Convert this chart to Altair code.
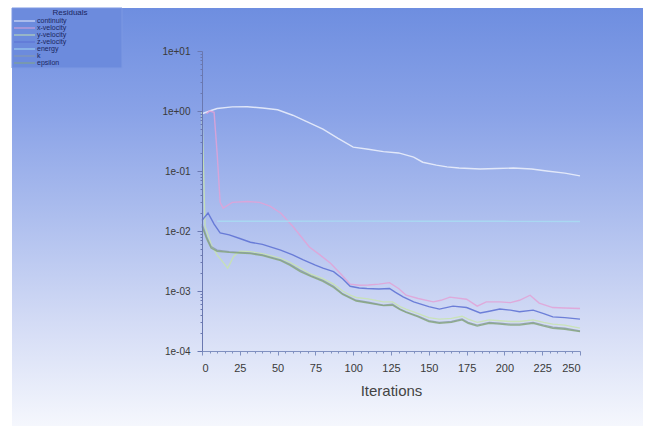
import altair as alt
import pandas as pd

# ---------------- data ----------------
series_names = ["continuity", "x-velocity", "y-velocity", "z-velocity", "energy", "k", "epsilon"]
series_colors = ["#eef2fc", "#e2a2d6", "#c8e4ae", "#5a6ed2", "#a8dcf2", "#8b9ca6", "#86a67e"]

continuity_iter = [0, 5, 10, 20, 30, 40, 50, 60, 70, 80, 90, 100, 110, 120, 130, 140, 146, 155, 162,
                   170, 184, 195, 206, 218, 228, 240, 250]
continuity_res = [0.9, 1.0, 1.1, 1.17, 1.18, 1.12, 1.05, 0.85, 0.65, 0.5, 0.35, 0.25, 0.23, 0.21, 0.2,
                  0.17, 0.14, 0.125, 0.117, 0.112, 0.108, 0.11, 0.112, 0.108, 0.10, 0.092, 0.083]

xvel_iter = [3, 5, 8, 10, 12, 14, 20, 30, 38, 45, 52, 60, 71, 78, 85, 92, 98, 104, 110, 117, 124, 130,
             135, 143, 153, 158, 164, 175, 182, 188, 197, 204, 210, 217, 223, 232, 240, 250]
xvel_res = [0.9, 1.0, 0.95, 0.2, 0.03, 0.024, 0.03, 0.031, 0.03, 0.026, 0.02, 0.012, 0.0054, 0.004,
            0.0029, 0.0019, 0.0013, 0.00125, 0.00126, 0.0013, 0.00138, 0.0011, 0.00085, 0.00075,
            0.00066, 0.0007, 0.00079, 0.00073, 0.00056, 0.00066, 0.00066, 0.00064, 0.0007, 0.00085,
            0.00063, 0.00053, 0.00052, 0.00051]

yvel_iter = [0, 2, 6, 10, 14, 17, 21, 25, 32, 40, 52, 58, 65, 72, 80, 87, 93, 98, 102, 110, 120, 126,
             131, 135, 143, 150, 157, 165, 172, 176, 182, 190, 197, 204, 210, 219, 226, 232, 240, 250]
yvel_res = [1.0, 0.012, 0.006, 0.004, 0.003, 0.0024, 0.0038, 0.0046, 0.0045, 0.0042, 0.0035, 0.003,
            0.0024, 0.0019, 0.0016, 0.0013, 0.001, 0.00085, 0.00078, 0.00074, 0.00066, 0.00066,
            0.00055, 0.0005, 0.00042, 0.00036, 0.00034, 0.00035, 0.00038, 0.00034, 0.0003, 0.00033,
            0.00032, 0.00031, 0.00031, 0.00033, 0.0003, 0.00028, 0.00027, 0.00024]

zvel_iter = [0, 4, 8, 12, 18, 25, 32, 40, 52, 60, 67, 75, 80, 87, 93, 98, 104, 109, 117, 124, 128, 133,
             140, 150, 157, 166, 175, 184, 190, 197, 204, 210, 219, 226, 232, 240, 250]
zvel_res = [0.015, 0.02, 0.013, 0.0093, 0.0086, 0.0075, 0.0065, 0.006, 0.0048, 0.004, 0.0033, 0.0027,
            0.0024, 0.0021, 0.0016, 0.0012, 0.00112, 0.0011, 0.00108, 0.0011, 0.00095, 0.0008,
            0.00066, 0.00055, 0.0005, 0.00056, 0.00053, 0.00043, 0.00046, 0.0005, 0.00048, 0.00045,
            0.00048, 0.00042, 0.00037, 0.00036, 0.00034]

energy_iter = [10, 50, 100, 150, 200, 250]
energy_res = [0.0145, 0.0145, 0.0146, 0.0145, 0.0145, 0.0144]

k_iter = [0, 3, 6, 10, 18, 25, 32, 40, 52, 58, 65, 72, 80, 87, 93, 98, 102, 110, 120, 126, 131, 135,
          143, 150, 157, 165, 172, 176, 182, 190, 197, 204, 210, 219, 226, 232, 240, 250]
k_res = [0.013, 0.008, 0.0055, 0.0048, 0.0045, 0.0044, 0.0043, 0.004, 0.0033, 0.0028, 0.0022, 0.0018,
         0.0015, 0.0012, 0.0009, 0.00078, 0.0007, 0.00065, 0.00058, 0.0006, 0.0005, 0.00045, 0.00038,
         0.00032, 0.0003, 0.00031, 0.00034, 0.0003, 0.00027, 0.0003, 0.00029, 0.00028, 0.00028,
         0.0003, 0.00027, 0.00025, 0.00024, 0.000215]

eps_iter = [0, 3, 6, 10, 18, 25, 32, 40, 52, 58, 65, 72, 80, 87, 93, 98, 102, 110, 120, 126, 131, 135,
            143, 150, 157, 165, 172, 176, 182, 190, 197, 204, 210, 219, 226, 232, 240, 250]
eps_res = [0.012, 0.0075, 0.0052, 0.0046, 0.0044, 0.0043, 0.0042, 0.0039, 0.0032, 0.0027, 0.0021,
           0.00175, 0.00145, 0.00115, 0.00088, 0.00076, 0.00068, 0.00063, 0.00057, 0.00058, 0.00049,
           0.00044, 0.00037, 0.00031, 0.00029, 0.0003, 0.00033, 0.00029, 0.00026, 0.00029, 0.00028,
           0.00027, 0.00027, 0.00029, 0.00026, 0.00024, 0.00023, 0.00021]

x_ticks = list(range(0, 251, 5))
y_major = [1e-4, 1e-3, 1e-2, 1e-1, 1e0, 1e1]
y_ticks = [m * d for d in y_major[:-1] for m in range(1, 10)] + [1e1]

legend_title = "Residuals"
axis_title = "Iterations"

# ---------------- tables ----------------
series_data = [
    (continuity_iter, continuity_res), (xvel_iter, xvel_res), (yvel_iter, yvel_res),
    (zvel_iter, zvel_res), (energy_iter, energy_res), (k_iter, k_res), (eps_iter, eps_res),
]
rows = []
for name, (its, vals) in zip(series_names, series_data):
    for it, v in zip(its, vals):
        rows.append({"series": name, "iter": it, "res": v})
df = pd.DataFrame(rows)

# legend layout (pixels relative to the plot origin)
leg_df = pd.DataFrame({
    "name": series_names,
    "col": series_colors,
    "ly": [-30 + 7 * i for i in range(len(series_names))],
})

one = pd.DataFrame({"a": [0]})

gradient = {
    "gradient": "linear", "x1": 0, "y1": 0, "x2": 0, "y2": 1,
    "stops": [
        {"offset": 0.0, "color": "#6e8ee0"},
        {"offset": 0.25, "color": "#89a2e7"},
        {"offset": 0.5, "color": "#adbeee"},
        {"offset": 0.75, "color": "#d3dbf5"},
        {"offset": 1.0, "color": "#f5f7fd"},
    ],
}

bg = alt.Chart(one).mark_rect(fill=gradient).encode(
    x=alt.value(-190), x2=alt.value(441), y=alt.value(-43), y2=alt.value(375)
)

is_major = "abs(log(datum.value)/LN10 - round(log(datum.value)/LN10)) < 0.01"
ylabel = ("(" + is_major + ") ? '1e' + (round(log(datum.value)/LN10) < 0 ? '-' : '+') + '0' + "
          "abs(round(log(datum.value)/LN10)) : ''")

lines = alt.Chart(df).mark_line(strokeWidth=1.4, opacity=0.85).encode(
    x=alt.X("iter:Q", scale=alt.Scale(domain=[0, 250], nice=False, zero=False),
            axis=alt.Axis(values=x_ticks, title=axis_title, zindex=2,
                          labelExpr="datum.value % 25 == 0 ? datum.value : ''",
                          tickSize={"condition": {"test": "datum.value % 25 == 0", "value": 4}, "value": 2},
                          labelPadding=7, titlePadding=10, titleFontSize=15, titleFontWeight="normal",
                          titleColor="#444444", labelFontSize=11, labelColor="#3a3a3a",
                          domainColor="#8090c0", tickColor="#8090c0", grid=False,
                          labelFont="Liberation Sans", titleFont="Liberation Sans")),
    y=alt.Y("res:Q", scale=alt.Scale(type="log", domain=[1e-4, 10], nice=False),
            axis=alt.Axis(values=y_ticks, title=None, labelExpr=ylabel, zindex=2,
                          tickSize={"condition": {"test": is_major, "value": 5}, "value": 2},
                          labelPadding=7, labelFontSize=10, labelColor="#3a3a3a",
                          domainColor="#6a78b0", tickColor="#6a78b0", grid=False,
                          labelFont="Liberation Sans")),
    color=alt.Color("series:N", scale=alt.Scale(domain=series_names, range=series_colors), legend=None),
    detail="series:N",
)

leg_box = alt.Chart(one).mark_rect(fill="#6c8bdd", stroke="#7d98e2", strokeWidth=1).encode(
    x=alt.value(-190), x2=alt.value(-80), y=alt.value(-43), y2=alt.value(17)
)

leg_title = alt.Chart(one).mark_text(
    text=legend_title, font="Liberation Sans", fontSize=8, color="#1a2660", align="center", baseline="middle"
).encode(x=alt.value(-132), y=alt.value(-38))

leg_lines = alt.Chart(leg_df).mark_rule(strokeWidth=1.2, opacity=0.8).encode(
    x=alt.value(-188), x2=alt.value(-167),
    y=alt.Y("ly:Q", scale=None, axis=None),
    color=alt.Color("col:N", scale=None, legend=None),
)

leg_text = alt.Chart(leg_df).mark_text(
    font="Liberation Sans", fontSize=7, color="#1a2660", align="left", baseline="middle"
).encode(
    x=alt.value(-165),
    y=alt.Y("ly:Q", scale=None, axis=None),
    text="name:N",
)

chart = alt.layer(bg, lines, leg_box, leg_title, leg_lines, leg_text).resolve_scale(
    y="independent", color="independent"
).properties(
    width=378, height=300,
    autosize=alt.AutoSizeParams(type="none"),
    padding={"left": 202, "top": 51, "right": 72, "bottom": 75},
    background="white",
).configure_view(stroke=None)

chart.save("out.html", embed_options={"renderer": "svg", "actions": False})
